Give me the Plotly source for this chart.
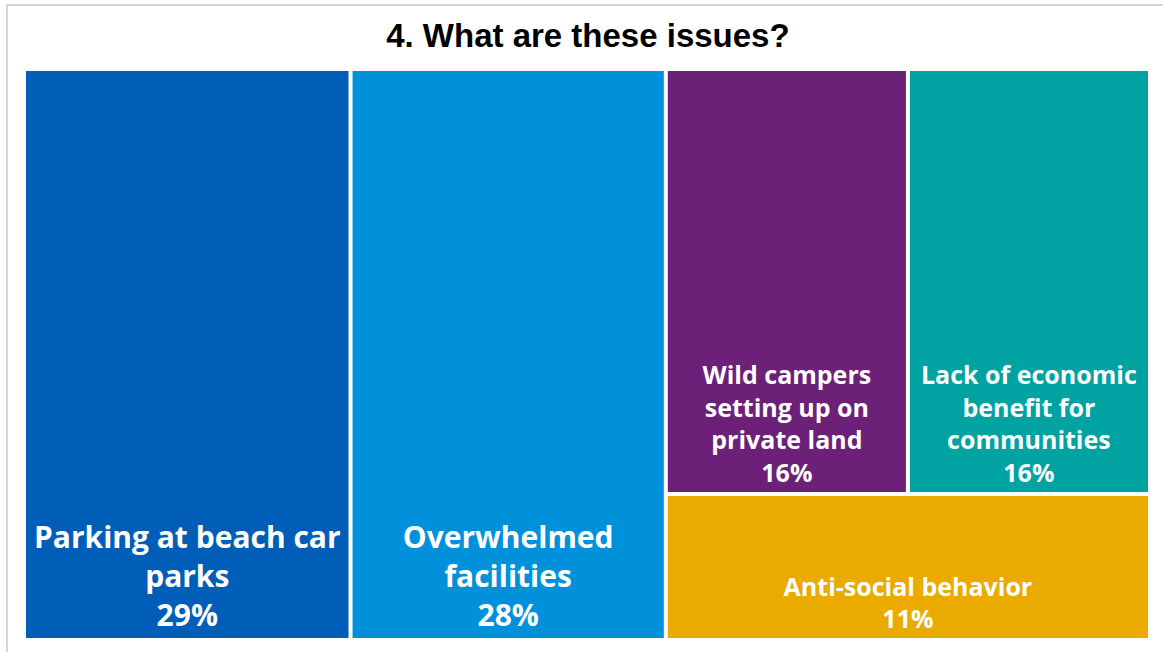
import plotly.graph_objects as go

# Survey answers: "4. What are these issues?"
categories = [
    "Parking at beach car parks",
    "Overwhelmed facilities",
    "Wild campers setting up on private land",
    "Lack of economic benefit for communities",
    "Anti-social behavior",
]
display_labels = [
    "Parking at beach car<br>parks",
    "Overwhelmed<br>facilities",
    "Wild campers<br>setting up on<br>private land",
    "Lack of economic<br>benefit for<br>communities",
    "Anti-social behavior",
]
shares = [29, 28, 16, 16, 11]
colors = ["#005EB8", "#0091DA", "#6D2077", "#00A3A1", "#EAAA00"]
label_sizes = [30, 30, 25, 25, 25]

fig = go.Figure(
    go.Treemap(
        labels=categories,
        parents=[""] * len(categories),
        values=shares,
        text=display_labels,
        texttemplate="%{text}<br>%{value}%",
        textposition="bottom center",
        textfont=dict(family="Open Sans", color="white", size=label_sizes, weight="bold"),
        marker=dict(colors=colors, line=dict(width=0, color="white"),
                    pad=dict(t=0, l=0, r=0, b=0)),
        tiling=dict(packing="squarify", pad=4),
        pathbar=dict(visible=False),
        root=dict(color="rgba(0,0,0,0)"),
        sort=True,
        hoverinfo="label+value",
    )
)

fig.update_layout(
    width=1163,
    height=652,
    margin=dict(l=26, r=15, t=71, b=14),
    paper_bgcolor="white",
    title=dict(
        text="4. What are these issues?",
        x=0.5055,
        xanchor="center",
        y=1 - 35 / 652,
        yanchor="middle",
        font=dict(family="Liberation Sans, Arial", size=33, color="black", weight="bold"),
    ),
    shapes=[
        dict(
            type="rect", xref="paper", yref="paper",
            x0=(7 - 26) / 1122, x1=(1175 - 26) / 1122,
            y0=(638 - 665) / 567, y1=(638 - 5) / 567,
            line=dict(color="#D6D6D6", width=2),
            fillcolor="rgba(0,0,0,0)",
            layer="below",
        )
    ],
)

fig.write_html("out.html")
